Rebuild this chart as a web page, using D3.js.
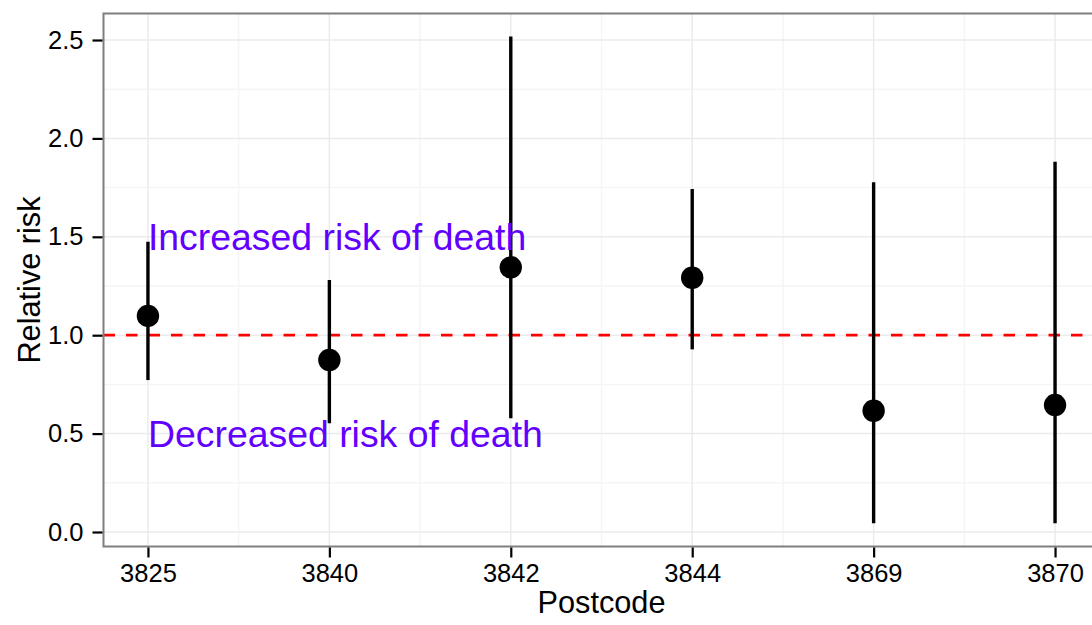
<!DOCTYPE html>
<html><head><meta charset="utf-8">
<script src="https://cdn.jsdelivr.net/npm/d3@7"></script>
<style>body{margin:0;background:#fff;} svg{display:block;font-family:Arial,"Liberation Sans",sans-serif;}</style>
</head><body><svg id="c" width="1092" height="625"></svg>
<script>
const postcodes = ["3825","3840","3842","3844","3869","3870"];
const rr     = [1.098, 0.874, 1.345, 1.292, 0.616, 0.645];
const lower  = [0.772, 0.552, 0.578, 0.928, 0.044, 0.044];
const upper  = [1.475, 1.280, 2.518, 1.743, 1.777, 1.882];
const yTicks = [0, 0.5, 1.0, 1.5, 2.0, 2.5];
const yMinor = [0.25, 0.75, 1.25, 1.75, 2.25];
const refLine = 1.0;
const annotations = [{label:"Increased risk of death", x:"3825", y:1.5},
                     {label:"Decreased risk of death", x:"3825", y:0.5}];

const svg = d3.select("#c");
const L=103.5, R=1099.5, T=13.5, B=546.5;
const x = d3.scalePoint().domain(postcodes).range([L,R]).padding(0.245);
const y = d3.scaleLinear().domain([-0.0737, 2.6347]).range([B,T]);

const g = svg.append("g");
const step = x.step();
const xMinor = postcodes.slice(0,-1).map(p=>x(p)+step/2);
g.selectAll(".xm").data(xMinor).join("line").attr("x1",d=>d).attr("x2",d=>d).attr("y1",T).attr("y2",B).attr("stroke","#f5f5f5").attr("stroke-width",1.5);
g.selectAll(".ym").data(yMinor).join("line").attr("x1",L).attr("x2",R).attr("y1",d=>y(d)).attr("y2",d=>y(d)).attr("stroke","#f5f5f5").attr("stroke-width",1.5);
g.selectAll(".xg").data(postcodes).join("line").attr("x1",d=>x(d)).attr("x2",d=>x(d)).attr("y1",T).attr("y2",B).attr("stroke","#ebebeb").attr("stroke-width",1.5);
g.selectAll(".yg").data(yTicks).join("line").attr("x1",L).attr("x2",R).attr("y1",d=>y(d)).attr("y2",d=>y(d)).attr("stroke","#ebebeb").attr("stroke-width",1.5);

g.append("line").attr("x1",L).attr("x2",R).attr("y1",y(refLine)).attr("y2",y(refLine))
 .attr("stroke","#ff0000").attr("stroke-width",2.8).attr("stroke-dasharray","11.5,11");

const data = postcodes.map((p,i)=>({p, v:rr[i], lo:lower[i], hi:upper[i]}));
g.selectAll(".eb").data(data).join("line").attr("x1",d=>x(d.p)).attr("x2",d=>x(d.p))
 .attr("y1",d=>y(d.lo)).attr("y2",d=>y(d.hi)).attr("stroke","#000").attr("stroke-width",3.4);
g.selectAll(".pt").data(data).join("circle").attr("cx",d=>x(d.p)).attr("cy",d=>y(d.v)).attr("r",11.2).attr("fill","#000");

g.selectAll(".ann").data(annotations).join("text").attr("x",d=>x(d.x)).attr("y",d=>y(d.y))
 .attr("dy","0.36em").attr("font-size",37.4).attr("fill","#6200ff").text(d=>d.label);

svg.append("rect").attr("x",L).attr("y",T).attr("width",R-L).attr("height",B-T).attr("fill","none").attr("stroke","#7f7f7f").attr("stroke-width",2);

const yAxis = svg.append("g").attr("transform",`translate(${L-1},0)`)
  .call(d3.axisLeft(y).tickValues(yTicks).tickFormat(d3.format(".1f")).tickSize(10).tickPadding(9));
const xAxis = svg.append("g").attr("transform",`translate(0,${B+1})`)
  .call(d3.axisBottom(x).tickSize(10).tickPadding(6));
[yAxis,xAxis].forEach(a=>{
  a.select(".domain").remove();
  a.selectAll(".tick line").attr("stroke","#000").attr("stroke-width",2.2);
  a.selectAll(".tick text").attr("font-size",25.5).attr("fill","#000").attr("font-family","Arial, 'Liberation Sans', sans-serif");
});

svg.append("text").attr("x",(L+R)/2).attr("y",613).attr("text-anchor","middle").attr("font-size",30.7).attr("fill","#000").text("Postcode");
svg.append("text").attr("transform",`translate(40,${(T+B)/2}) rotate(-90)`).attr("text-anchor","middle").attr("font-size",30.7).attr("fill","#000").text("Relative risk");
</script></body></html>
